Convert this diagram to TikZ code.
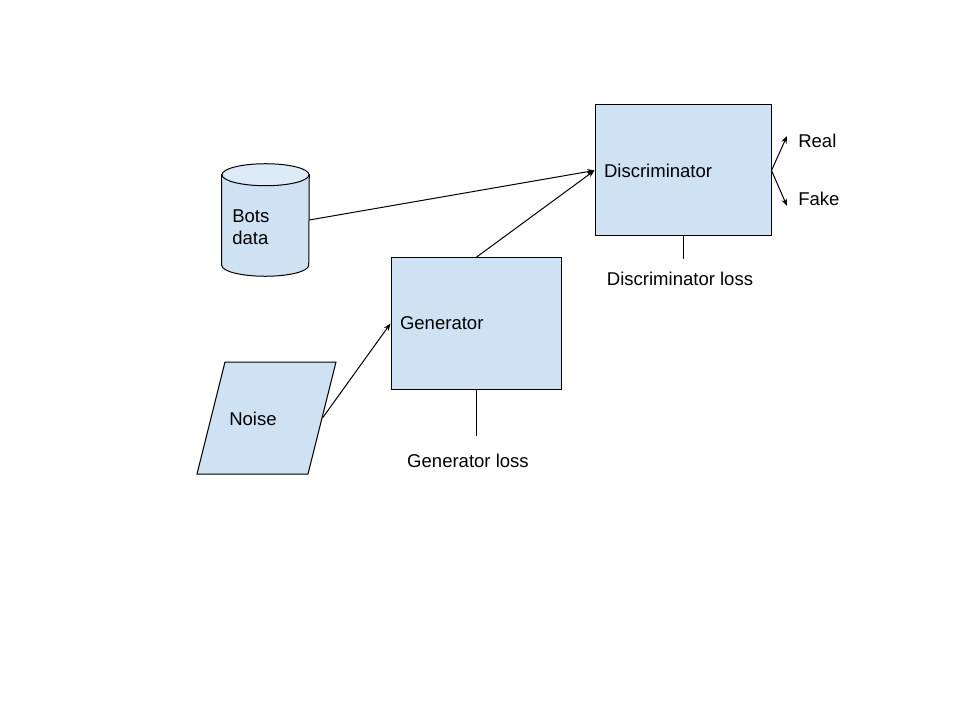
\documentclass[tikz,border=0pt]{standalone}
\usepackage{fontspec}
\setmainfont{Liberation Sans}
\usetikzlibrary{shapes.geometric,arrows.meta}
\definecolor{boxblue}{HTML}{CFE2F3}
\definecolor{capblue}{HTML}{DEEAF6}
\begin{document}
\begin{tikzpicture}[x=0.75pt,y=-0.75pt,
  every node/.style={font=\fontsize{13.9}{16.5}\selectfont},
  procbox/.style={draw=black,line width=0.75pt,fill=boxblue,rectangle,
    minimum height=98.25pt,inner sep=6.75pt,align=left},
  conn/.style={line width=0.75pt,-{Stealth[length=5.5pt,width=4.2pt]}},
  plain/.style={line width=0.75pt},
  shapeline/.style={draw=black,line width=0.75pt},
  lbl/.style={inner sep=0pt,anchor=west,align=left}]
\useasboundingbox (0,0) rectangle (960,720);
% Discriminator
\node[procbox,minimum width=132pt,text width=118.5pt] (disc) at (683,170.5) {Discriminator};
% Generator
\node[procbox,minimum width=127.5pt,text width=114pt] (gen) at (476,323.5) {Generator};
% Bots data cylinder
\node[rectangle,minimum width=65.25pt,minimum height=84pt,inner sep=0pt] (bots) at (265.5,220) {};
\path[shapeline,fill=boxblue] ([yshift=-8.25pt]bots.north west)
  -- ([yshift=8.25pt]bots.south west)
  arc[start angle=180,end angle=360,x radius=32.625pt,y radius=8.25pt]
  -- ([yshift=-8.25pt]bots.north east) -- cycle;
\path[shapeline,fill=capblue] ([yshift=-8.25pt]bots.north)
  ellipse[x radius=32.625pt,y radius=8.25pt];
\node[lbl] (botstext) at (232,227) {Bots\\data};
% Noise parallelogram
\node[rectangle,draw=black,line width=0.75pt,fill=boxblue,
  minimum width=83.25pt,minimum height=84pt,inner sep=0pt,
  xslant=0.25,transform shape] (noise) at (266.5,418) {};
\node[lbl] (noisetext) at (229,419) {Noise};
% connectors
\draw[conn] (bots.east) -- (disc.west);
\draw[conn] (gen.north) -- (disc.west);
\draw[conn] (noise.east) -- (gen.west);
% losses
\coordinate (genlossend) at (476,436);
\draw[plain] (gen.south) -- (genlossend);
\node (genloss) at (468,461) {Generator loss};
\coordinate (disclossend) at (683,259);
\draw[plain] (disc.south) -- (disclossend);
\node (discloss) at (680,279) {Discriminator loss};
% outputs
\coordinate (realtip) at (787,136);
\coordinate (faketip) at (787,206);
\draw[conn] (disc.east) -- (realtip);
\draw[conn] (disc.east) -- (faketip);
\node[lbl] (real) at (798,141) {Real};
\node[lbl] (fake) at (798,199) {Fake};
\end{tikzpicture}
\end{document}
